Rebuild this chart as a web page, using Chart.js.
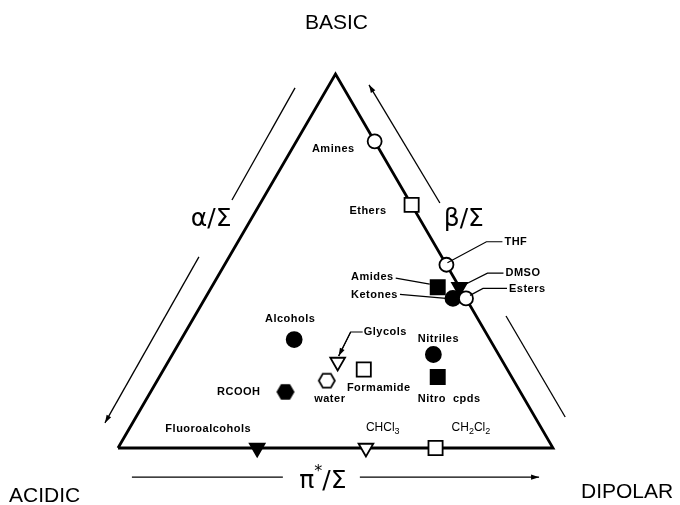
<!DOCTYPE html>
<html>
<head>
<meta charset="utf-8">
<script src="https://cdn.jsdelivr.net/npm/chart.js@4"></script>
<style>
  html, body { margin: 0; background: #fff; }
  canvas { display: block; }
</style>
</head>
<body>
<canvas id="chart" width="680" height="505"></canvas>
<script>
const solvents  = ['Amines','Ethers','THF','DMSO','Esters','Ketones','Amides','Alcohols','Glycols','Formamide','water','RCOOH','Nitriles','Nitro  cpds','Fluoroalcohols','CHCl3','CH2Cl2'];
const alphaFrac = [0.00, 0.00, 0.00, 0.00, 0.00, 0.03, 0.05, 0.45, 0.38, 0.33, 0.43, 0.54, 0.15, 0.17, 0.68, 0.43, 0.27];
const betaFrac  = [0.82, 0.65, 0.49, 0.43, 0.40, 0.40, 0.43, 0.29, 0.23, 0.21, 0.18, 0.15, 0.25, 0.19, 0.00, 0.00, 0.00];
const piFrac    = [0.18, 0.35, 0.51, 0.57, 0.60, 0.57, 0.52, 0.26, 0.39, 0.46, 0.39, 0.31, 0.60, 0.64, 0.32, 0.57, 0.73];
const markerKind = ['circle-open','rect-open','circle-open','tri-filled','circle-open','circle-filled','rect-filled','circle-filled','tri-open','rect-open','hex-open','hex-filled','circle-filled','rect-filled','tri-filled','tri-open','rect-open'];

const cornerLabels = ['ACIDIC', 'BASIC', 'DIPOLAR'];

// label placement relative to the marker (pixels), with optional leader line
const labelLayout = {
  'Amines':         { dx: -20, dy: 8,   align: 'right' },
  'Ethers':         { dx: -25, dy: 6,   align: 'right' },
  'THF':            { dx: 58,  dy: -23, align: 'left', leader: [[1, -2], [40, -23], [56, -23]] },
  'DMSO':           { dx: 46,  dy: -14, align: 'left', leader: [[2, -1], [28, -14], [44, -14]] },
  'Esters':         { dx: 43,  dy: -9,  align: 'left', leader: [[4, -3], [17, -10], [41, -10]] },
  'Amides':         { dx: -44, dy: -10, align: 'right', leader: [[-42, -9], [-8, -3]] },
  'Ketones':        { dx: -55, dy: -3,  align: 'right', leader: [[-53, -4], [-7, 0]] },
  'Alcohols':       { dx: -4,  dy: -21, align: 'center' },
  'Glycols':        { dx: 26,  dy: -30, align: 'left', leader: [[25, -30], [13, -30], [1, -6]], head: true },
  'Formamide':      { dx: 15,  dy: 19,  align: 'center' },
  'water':          { dx: 3,   dy: 18,  align: 'center' },
  'RCOOH':          { dx: -25, dy: 0,   align: 'right' },
  'Nitriles':       { dx: 5,   dy: -16, align: 'center' },
  'Nitro  cpds':    { dx: -20, dy: 22,  align: 'left' },
  'Fluoroalcohols': { dx: -6,  dy: -19, align: 'right' },
  'CHCl3':          { dx: 0,   dy: -20, align: 'left' },
  'CH2Cl2':         { dx: 16,  dy: -20, align: 'left' }
};

function hexCanvas(filled) {
  const c = document.createElement('canvas');
  c.width = 20; c.height = 20;
  const g = c.getContext('2d');
  g.beginPath();
  for (let k = 0; k < 6; k++) {
    const a = k * Math.PI / 3;
    g.lineTo(10 + 8 * Math.cos(a), 10 + 8 * Math.sin(a));
  }
  g.closePath();
  g.fillStyle = filled ? '#000' : '#fff';
  g.fill();
  g.lineWidth = 1.8;
  g.strokeStyle = '#000';
  g.stroke();
  return c;
}

const kindStyle = {
  'circle-open':   { pointStyle: 'circle', radius: 7, bg: '#fff' },
  'circle-filled': { pointStyle: 'circle', radius: 7.5, bg: '#000' },
  'rect-open':     { pointStyle: 'rect', radius: 10, bg: '#fff' },
  'rect-filled':   { pointStyle: 'rect', radius: 10, bg: '#000' },
  'tri-open':      { pointStyle: 'triangle', radius: 8.5, bg: '#fff', rotation: 180 },
  'tri-filled':    { pointStyle: 'triangle', radius: 8.5, bg: '#000', rotation: 180 },
  'hex-open':      { pointStyle: hexCanvas(false), radius: 8, bg: '#fff' },
  'hex-filled':    { pointStyle: hexCanvas(true), radius: 8, bg: '#000' }
};

// ternary -> cartesian: acidic corner (0,0), basic apex (0.5,1), dipolar corner (1,0)
const toXY = i => ({ x: piFrac[i] + betaFrac[i] / 2, y: betaFrac[i], i });

const datasets = Object.keys(kindStyle).map(kind => {
  const s = kindStyle[kind];
  return {
    type: 'scatter',
    label: kind,
    data: solvents.map((_, i) => i).filter(i => markerKind[i] === kind).map(toXY),
    pointStyle: s.pointStyle,
    pointRadius: s.radius,
    pointRotation: s.rotation || 0,
    pointBackgroundColor: s.bg,
    pointBorderColor: '#000',
    pointBorderWidth: 1.8,
    clip: false
  };
});

// triangle frame, drawn underneath the markers
datasets.push({
  type: 'line',
  label: 'frame',
  data: [{ x: 0, y: 0 }, { x: 0.5, y: 1 }, { x: 1, y: 0 }, { x: 0, y: 0 }],
  borderColor: '#000',
  borderWidth: 2.8,
  pointRadius: 0,
  tension: 0,
  clip: false
});

function formulaParts(name) {
  if (!/^CH/.test(name)) return [{ t: name, sub: false }];
  return name.split(/(\d)/).filter(s => s).map(s => ({ t: s, sub: /\d/.test(s) }));
}

function drawLabel(ctx, name, x, y, align) {
  const parts = formulaParts(name);
  const formula = parts.length > 1;
  const mainFont = formula ? '12px "Liberation Sans"' : 'bold 11px "Liberation Sans"';
  const subFont = '9px "Liberation Sans"';
  ctx.letterSpacing = formula ? '0px' : '0.5px';
  let w = 0;
  parts.forEach(p => { ctx.font = p.sub ? subFont : mainFont; p.w = ctx.measureText(p.t).width; w += p.w; });
  let cx = align === 'right' ? x - w : align === 'center' ? x - w / 2 : x;
  ctx.textAlign = 'left';
  ctx.textBaseline = 'middle';
  parts.forEach(p => {
    ctx.font = p.sub ? subFont : mainFont;
    ctx.fillText(p.t, cx, p.sub ? y + 4 : y);
    cx += p.w;
  });
  ctx.letterSpacing = '0px';
}

function arrow(ctx, a, b, head) {
  ctx.beginPath();
  ctx.moveTo(a[0], a[1]);
  ctx.lineTo(b[0], b[1]);
  ctx.stroke();
  if (!head) return;
  const ang = Math.atan2(b[1] - a[1], b[0] - a[0]);
  const L = 8, H = 2.6;
  ctx.beginPath();
  ctx.moveTo(b[0], b[1]);
  ctx.lineTo(b[0] - L * Math.cos(ang) + H * Math.sin(ang), b[1] - L * Math.sin(ang) - H * Math.cos(ang));
  ctx.lineTo(b[0] - L * Math.cos(ang) - H * Math.sin(ang), b[1] - L * Math.sin(ang) + H * Math.cos(ang));
  ctx.closePath();
  ctx.fill();
}

const decor = {
  id: 'decor',
  afterDatasetsDraw(chart) {
    const { ctx } = chart;
    const sx = chart.scales.x, sy = chart.scales.y;
    const P = (x, y) => [sx.getPixelForValue(x), sy.getPixelForValue(y)];
    ctx.save();
    ctx.fillStyle = '#000';
    ctx.strokeStyle = '#000';

    // solvent labels and leader lines
    ctx.lineWidth = 1.2;
    solvents.forEach((name, i) => {
      const p = toXY(i);
      const [mx, my] = P(p.x, p.y);
      const L = labelLayout[name];
      if (L.leader) {
        ctx.beginPath();
        L.leader.forEach(([dx, dy], k) => k ? ctx.lineTo(mx + dx, my + dy) : ctx.moveTo(mx + dx, my + dy));
        ctx.stroke();
        if (L.head) {
          const n = L.leader.length;
          arrow(ctx, [mx + L.leader[n - 2][0], my + L.leader[n - 2][1]], [mx + L.leader[n - 1][0], my + L.leader[n - 1][1]], true);
        }
      }
      drawLabel(ctx, name, mx + L.dx, my + L.dy, L.align);
    });

    // direction arrows along the three sides
    ctx.lineWidth = 1.3;
    arrow(ctx, P(0.407, 0.963), P(0.262, 0.663), false);
    arrow(ctx, P(0.186, 0.511), P(-0.030, 0.067), true);
    arrow(ctx, P(0.740, 0.655), P(0.577, 0.971), true);
    arrow(ctx, P(0.892, 0.353), P(1.028, 0.083), false);
    arrow(ctx, P(0.032, -0.078), P(0.379, -0.078), false);
    arrow(ctx, P(0.556, -0.078), P(0.968, -0.078), true);

    // axis symbols
    ctx.font = '25px "DejaVu Sans"';
    ctx.textAlign = 'center';
    ctx.textBaseline = 'middle';
    let q = P(0.214, 0.61);
    ctx.fillText('α/Σ', q[0], q[1]);
    q = P(0.795, 0.61);
    ctx.fillText('β/Σ', q[0], q[1]);
    q = P(0.471, -0.078);
    ctx.textAlign = 'left';
    ctx.textBaseline = 'alphabetic';
    const wPi = ctx.measureText('π').width;
    ctx.font = '16px "DejaVu Sans"';
    const wStar = ctx.measureText('*').width;
    ctx.font = '25px "DejaVu Sans"';
    const wRest = ctx.measureText('/Σ').width;
    let x0 = q[0] - (wPi + wStar + wRest) / 2;
    const base = q[1] + 11;
    ctx.fillText('π', x0, base);
    ctx.font = '16px "DejaVu Sans"';
    ctx.fillText('*', x0 + wPi, base - 12);
    ctx.font = '25px "DejaVu Sans"';
    ctx.fillText('/Σ', x0 + wPi + wStar, base);

    // corner names
    ctx.font = '21px "Liberation Sans"';
    const [ax, ay] = P(0, 0), [bx, by] = P(0.5, 1), [dx, dy] = P(1, 0);
    ctx.textAlign = 'left';
    ctx.fillText(cornerLabels[0], ax - 109, ay + 54);
    ctx.textAlign = 'center';
    ctx.fillText(cornerLabels[1], bx + 1, by - 45);
    ctx.textAlign = 'left';
    ctx.fillText(cornerLabels[2], dx + 28, dy + 50);
    ctx.restore();
  }
};

new Chart(document.getElementById('chart'), {
  type: 'scatter',
  data: { datasets },
  options: {
    responsive: false,
    animation: false,
    layout: { padding: { left: 118, right: 127, top: 74, bottom: 57 } },
    scales: {
      x: { type: 'linear', min: 0, max: 1, display: false },
      y: { type: 'linear', min: 0, max: 1, display: false }
    },
    plugins: { legend: { display: false }, tooltip: { enabled: false } }
  },
  plugins: [decor]
});
</script>
</body>
</html>
